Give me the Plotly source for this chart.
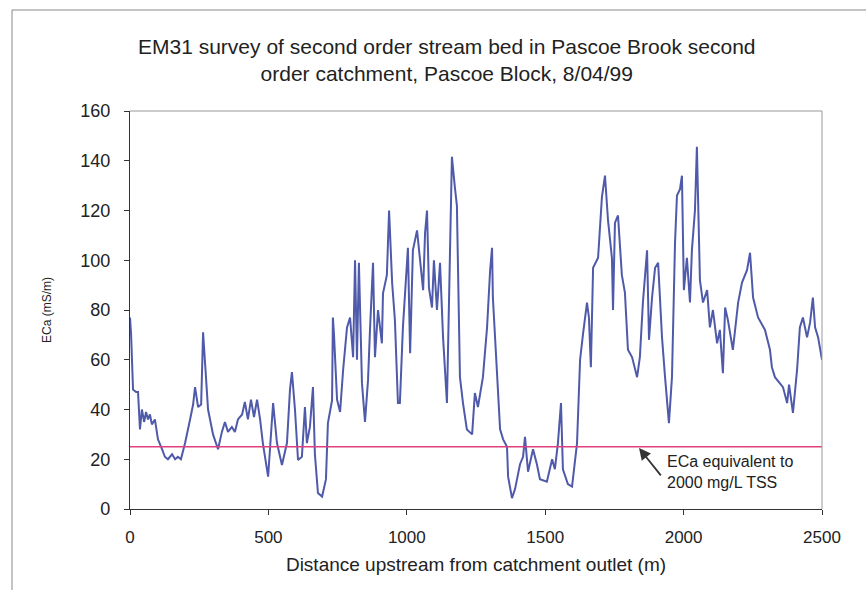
import plotly.graph_objects as go

# Distance upstream from catchment outlet (m)
distance_m = [
    0, 4, 11, 22, 29, 36, 43, 51, 58, 65, 72, 79, 90, 101, 116, 126, 137, 152, 163, 173,
    184, 199, 217, 228, 235, 246, 257, 264, 271, 282, 300, 318, 332, 343, 354, 368, 379, 390,
    405, 415, 426, 437, 448, 459, 470, 480, 499, 517, 531, 549, 567, 578, 585, 596, 607, 621,
    632, 639, 650, 661, 668, 679, 694, 708, 715, 730, 733, 737, 748, 759, 770, 784, 795, 806,
    813, 820, 827, 838, 849, 860, 867, 878, 885, 896, 910, 914, 928, 936, 947, 957, 968, 975,
    986, 1004, 1012, 1022, 1037, 1048, 1059, 1066, 1073, 1080, 1091, 1098, 1109, 1120, 1131,
    1145, 1156, 1163, 1174, 1181, 1192, 1203, 1217, 1236, 1246, 1257, 1275, 1290, 1301, 1308,
    1311, 1326, 1337, 1348, 1362, 1366, 1380, 1391, 1409, 1420, 1427, 1438, 1456, 1470, 1481,
    1506, 1525, 1535, 1546, 1557, 1564, 1582, 1597, 1615, 1626, 1637, 1651, 1658, 1665, 1673,
    1691, 1705, 1716, 1727, 1741, 1745, 1752, 1763, 1777, 1788, 1799, 1814, 1832, 1842, 1853,
    1868, 1875, 1886, 1897, 1908, 1922, 1933, 1947, 1958, 1969, 1976, 1987, 1994, 2001, 2012,
    2023, 2030, 2041, 2048, 2059, 2070, 2085, 2095, 2106, 2121, 2131, 2142, 2150, 2160, 2178,
    2197, 2211, 2229, 2240, 2251, 2269, 2294, 2312, 2319, 2330, 2359, 2374, 2381, 2395, 2410,
    2420, 2431, 2446, 2457, 2467, 2475, 2486, 2500,
]

# Apparent electrical conductivity ECa (mS/m)
eca_ms_m = [
    77, 70, 48, 47, 47, 32, 40, 35, 39, 36, 38, 34, 36, 28, 24, 21, 20, 22, 20, 21,
    20, 26.5, 36, 42, 49, 41, 42, 71, 59, 40, 30, 24, 31, 35, 31, 33, 31, 36,
    38, 43, 36, 44, 37, 44, 36, 26.5, 13, 42.6, 26.5, 17.7, 26.5, 48, 55, 40, 19.7, 21,
    41, 26.5, 33, 49, 22, 6.4, 5, 12, 34.5, 43.7, 77, 70, 44, 39, 56, 73, 77, 61,
    100, 60, 99, 50.6, 35, 52, 72, 99, 61, 80, 66.6, 86.7, 94, 120, 91, 76, 42.6, 42.6,
    73, 105, 62.6, 104, 112, 101, 88, 111, 120, 89, 81, 100, 80, 99, 69,
    42.6, 97, 141.6, 129, 122, 53, 42.6, 32, 30, 46.6, 41, 53, 73, 96, 105,
    85, 56, 32, 28, 25, 13, 4.4, 8, 18, 21, 29, 15, 24, 18, 12,
    11, 20, 16, 26.5, 42.6, 16, 10, 9, 26.5, 60, 70.7, 83, 77, 57, 97,
    101, 125.5, 134, 116, 101, 80, 115, 118, 94, 87, 64, 61, 53, 61, 83,
    104, 68, 85, 97, 99, 69, 53, 34.5, 53, 107, 126, 128.6, 134, 88, 101,
    83, 104, 120, 145.6, 92, 83, 88, 73, 80, 66.6, 72, 54.6, 81, 76, 64,
    83, 91, 96, 103, 85, 77, 72, 64, 57, 53, 49, 42.6, 50, 38.6, 56,
    73, 77, 69, 75, 85, 73, 69, 60,
]

threshold_x = [0, 2500]
threshold_eca = [25, 25]

y_ticks = [0, 20, 40, 60, 80, 100, 120, 140, 160]
x_ticks = [0, 500, 1000, 1500, 2000, 2500]

FONT = "Liberation Sans, Arial, sans-serif"

fig = go.Figure()
fig.add_trace(go.Scatter(
    x=distance_m, y=eca_ms_m, mode="lines",
    line=dict(color="#4F5AAA", width=2), showlegend=False,
))
fig.add_trace(go.Scatter(
    x=threshold_x, y=threshold_eca, mode="lines",
    line=dict(color="#E0407E", width=1.4), showlegend=False,
))

fig.update_layout(
    width=866, height=590,
    margin=dict(l=130, r=44, t=111, b=81),
    paper_bgcolor="white", plot_bgcolor="white",
    font=dict(family=FONT, color="#222"),
    xaxis=dict(
        range=[0, 2500], tickvals=x_ticks, ticks="outside", ticklen=5,
        tickcolor="#333", showline=True, linecolor="#333", linewidth=1.2,
        showgrid=False, zeroline=False, tickfont=dict(size=17, color="#222"),
        ticklabelstandoff=7,
        title=dict(text="Distance upstream from catchment outlet (m)",
                   font=dict(size=19, color="#222"), standoff=12),
    ),
    yaxis=dict(
        range=[0, 160], tickvals=y_ticks, ticks="outside", ticklen=5,
        tickcolor="#333", showline=True, linecolor="#333", linewidth=1.2,
        showgrid=False, zeroline=False, tickfont=dict(size=18, color="#222"),
        ticklabelstandoff=10,
        title=dict(text="ECa (mS/m)", font=dict(size=12, color="#222"), standoff=26),
    ),
    shapes=[
        dict(type="line", xref="paper", yref="paper", x0=0, x1=1, y0=1, y1=1,
             line=dict(color="#999", width=1)),
        dict(type="line", xref="paper", yref="paper", x0=1, x1=1, y0=0, y1=1,
             line=dict(color="#999", width=1)),
        dict(type="line", xref="paper", yref="paper", x0=-0.1705, x1=-0.1705, y0=-0.25, y1=1.2538,
             line=dict(color="#888", width=1)),
        dict(type="line", xref="paper", yref="paper", x0=-0.1705, x1=1.1, y0=1.2538, y1=1.2538,
             line=dict(color="#888", width=1)),
    ],
    annotations=[
        dict(text="EM31 survey of second order stream bed in Pascoe Brook second<br>order catchment, Pascoe Block, 8/04/99",
             xref="paper", yref="paper", x=(447 - 130) / 692, y=(509 - 60) / 398,
             xanchor="center", yanchor="middle", showarrow=False,
             font=dict(size=21, color="#222"), align="center"),
        dict(text="ECa equivalent to<br>2000 mg/L TSS", x=1933, y=14.9,
             xref="x", yref="y", xanchor="left", yanchor="middle",
             showarrow=False, align="left", font=dict(size=16, color="#222")),
        dict(x=1839, y=24.5, xref="x", yref="y", ax=1922, ay=12.9,
             axref="x", ayref="y", showarrow=True, arrowhead=2, arrowsize=1.3,
             arrowwidth=1.8, arrowcolor="#333", text=""),
    ],
)

fig.write_html("out.html")
